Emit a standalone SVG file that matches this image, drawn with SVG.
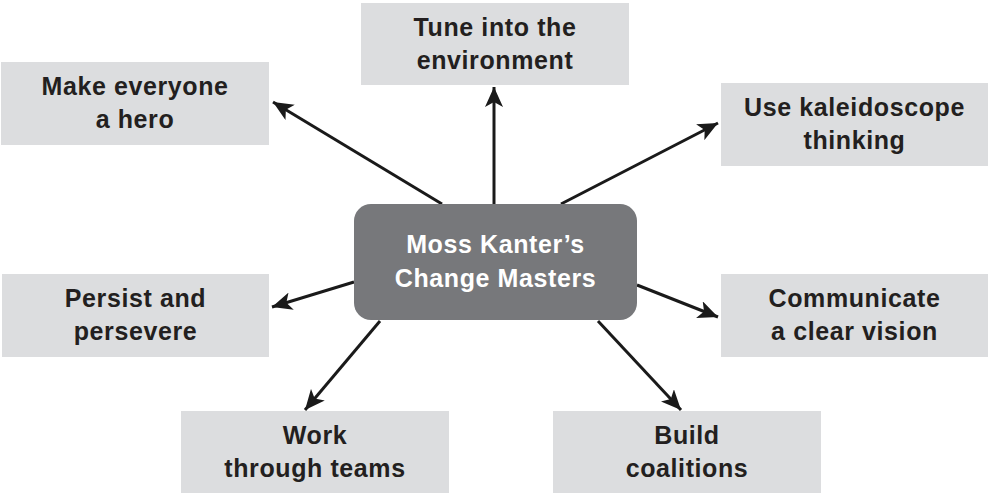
<svg xmlns="http://www.w3.org/2000/svg" width="991" height="495" viewBox="0 0 991 495">
<style>
.box{fill:#dcdddf}
.lbl{font-family:"Liberation Sans",Arial,sans-serif;font-weight:bold;font-size:25px;letter-spacing:0.6px;fill:#231f20;text-anchor:middle}
.ctr{fill:#77787b}
.ctxt{font-family:"Liberation Sans",Arial,sans-serif;font-weight:bold;font-size:25px;letter-spacing:0.6px;fill:#ffffff;text-anchor:middle}
.conn line{stroke:#1a1a1a;stroke-width:3;marker-end:url(#ah)}
</style>
<defs>
<marker id="ah" markerUnits="userSpaceOnUse" markerWidth="22" markerHeight="18" refX="20" refY="9" orient="auto">
<path d="M0,0 L20,9 L0,18 L5,9 Z" fill="#1a1a1a"/>
</marker>
</defs>
<rect width="991" height="495" fill="#ffffff"/>
<g id="n-hero"><rect class="box" x="1" y="62" width="268" height="83"/><text class="lbl" x="135" y="95">Make everyone</text><text class="lbl" x="135" y="128">a hero</text></g>
<g id="n-tune"><rect class="box" x="361" y="3" width="268" height="82"/><text class="lbl" x="495" y="36">Tune into the</text><text class="lbl" x="495" y="69">environment</text></g>
<g id="n-kal"><rect class="box" x="721" y="83" width="267" height="83"/><text class="lbl" x="854.5" y="116">Use kaleidoscope</text><text class="lbl" x="854.5" y="149">thinking</text></g>
<g id="n-persist"><rect class="box" x="2" y="274" width="267" height="83"/><text class="lbl" x="135.5" y="307">Persist and</text><text class="lbl" x="135.5" y="340">persevere</text></g>
<g id="n-comm"><rect class="box" x="721" y="274" width="267" height="83"/><text class="lbl" x="854.5" y="307">Communicate</text><text class="lbl" x="854.5" y="340">a clear vision</text></g>
<g id="n-work"><rect class="box" x="181" y="411" width="268" height="82"/><text class="lbl" x="315" y="443.5">Work</text><text class="lbl" x="315" y="476.5">through teams</text></g>
<g id="n-build"><rect class="box" x="553" y="411" width="268" height="82"/><text class="lbl" x="687" y="443.5">Build</text><text class="lbl" x="687" y="476.5">coalitions</text></g>
<g id="connectors" class="conn">
<line x1="442" y1="204" x2="273" y2="102"/>
<line x1="494" y1="204" x2="494" y2="87"/>
<line x1="561" y1="204" x2="718" y2="123"/>
<line x1="354" y1="282" x2="272" y2="307"/>
<line x1="380" y1="321" x2="305" y2="410"/>
<line x1="637" y1="285" x2="718" y2="317"/>
<line x1="598" y1="321" x2="681" y2="410"/>
</g>
<g id="n-center"><rect class="ctr" x="354" y="204" width="283" height="116" rx="17" ry="17"/><text class="ctxt" x="495.5" y="253">Moss Kanter’s</text><text class="ctxt" x="495.5" y="287">Change Masters</text></g>
</svg>
